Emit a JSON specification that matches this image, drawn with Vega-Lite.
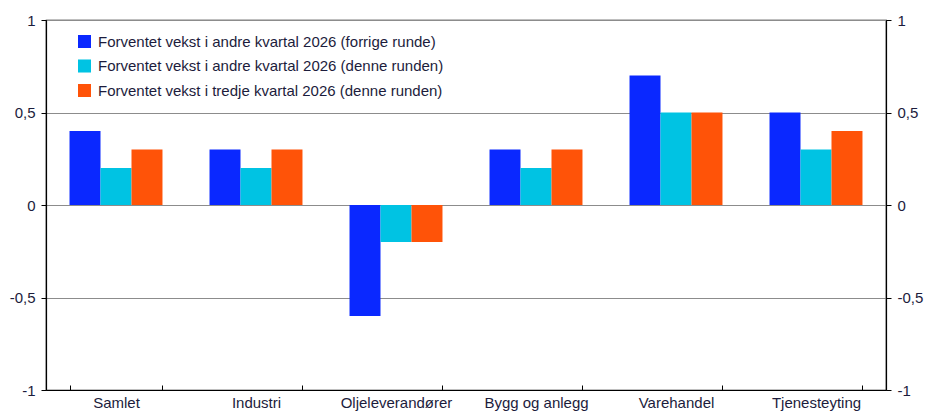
{
  "$schema": "https://vega.github.io/schema/vega-lite/v6.json",
  "width": 840,
  "height": 370,
  "autosize": {"type": "none"},
  "padding": {"left": 46, "top": 20, "right": 39, "bottom": 25},
  "background": "white",
  "config": {
    "view": {"stroke": "#000000", "strokeWidth": 1.2},
    "font": "Liberation Sans",
    "axis": {"labelFont": "Liberation Sans", "labelColor": "#1c1c3c", "labelFontSize": 15, "domainColor": "#000000", "tickColor": "#000000", "title": null}
  },
  "data": {
    "values": [
      {"kategori": "Samlet", "serie": "Forventet vekst i andre kvartal 2026 (forrige runde)", "verdi": 0.4},
      {"kategori": "Samlet", "serie": "Forventet vekst i andre kvartal 2026 (denne runden)", "verdi": 0.2},
      {"kategori": "Samlet", "serie": "Forventet vekst i tredje kvartal 2026 (denne runden)", "verdi": 0.3},
      {"kategori": "Industri", "serie": "Forventet vekst i andre kvartal 2026 (forrige runde)", "verdi": 0.3},
      {"kategori": "Industri", "serie": "Forventet vekst i andre kvartal 2026 (denne runden)", "verdi": 0.2},
      {"kategori": "Industri", "serie": "Forventet vekst i tredje kvartal 2026 (denne runden)", "verdi": 0.3},
      {"kategori": "Oljeleverandører", "serie": "Forventet vekst i andre kvartal 2026 (forrige runde)", "verdi": -0.6},
      {"kategori": "Oljeleverandører", "serie": "Forventet vekst i andre kvartal 2026 (denne runden)", "verdi": -0.2},
      {"kategori": "Oljeleverandører", "serie": "Forventet vekst i tredje kvartal 2026 (denne runden)", "verdi": -0.2},
      {"kategori": "Bygg og anlegg", "serie": "Forventet vekst i andre kvartal 2026 (forrige runde)", "verdi": 0.3},
      {"kategori": "Bygg og anlegg", "serie": "Forventet vekst i andre kvartal 2026 (denne runden)", "verdi": 0.2},
      {"kategori": "Bygg og anlegg", "serie": "Forventet vekst i tredje kvartal 2026 (denne runden)", "verdi": 0.3},
      {"kategori": "Varehandel", "serie": "Forventet vekst i andre kvartal 2026 (forrige runde)", "verdi": 0.7},
      {"kategori": "Varehandel", "serie": "Forventet vekst i andre kvartal 2026 (denne runden)", "verdi": 0.5},
      {"kategori": "Varehandel", "serie": "Forventet vekst i tredje kvartal 2026 (denne runden)", "verdi": 0.5},
      {"kategori": "Tjenesteyting", "serie": "Forventet vekst i andre kvartal 2026 (forrige runde)", "verdi": 0.5},
      {"kategori": "Tjenesteyting", "serie": "Forventet vekst i andre kvartal 2026 (denne runden)", "verdi": 0.3},
      {"kategori": "Tjenesteyting", "serie": "Forventet vekst i tredje kvartal 2026 (denne runden)", "verdi": 0.4}
    ]
  },
  "encoding": {
    "x": {
      "field": "kategori",
      "type": "nominal",
      "sort": null,
      "scale": {"paddingInner": 0.336, "paddingOuter": 0.168},
      "axis": {"labelAngle": 0, "tickBand": "extent", "tickSize": -5, "labelPadding": 10, "domainWidth": 1.2}
    }
  },
  "layer": [
    {
      "mark": {"type": "bar"},
      "encoding": {
        "xOffset": {"field": "serie", "type": "nominal", "sort": null, "scale": {"paddingInner": 0, "paddingOuter": 0}},
        "y": {
          "field": "verdi",
          "type": "quantitative",
          "scale": {"domain": [-1, 1], "nice": false},
          "axis": {
            "orient": "left",
            "values": [-1, -0.5, 0, 0.5, 1],
            "labelExpr": "replace(toString(datum.value), '.', ',')",
            "grid": true,
            "gridColor": "#8c8c8c",
            "gridWidth": 1,
            "tickSize": 5,
            "labelPadding": 6,
            "domainWidth": 1.2
          }
        },
        "color": {
          "field": "serie",
          "type": "nominal",
          "sort": null,
          "scale": {
            "domain": ["Forventet vekst i andre kvartal 2026 (forrige runde)", "Forventet vekst i andre kvartal 2026 (denne runden)", "Forventet vekst i tredje kvartal 2026 (denne runden)"],
            "range": ["#0a28ff", "#00c3e3", "#ff5308"]
          },
          "legend": {
            "title": null,
            "orient": "none",
            "legendX": 31,
            "legendY": 14,
            "symbolType": "square",
            "symbolSize": 170,
            "symbolStrokeWidth": 0,
            "labelFont": "Liberation Sans",
            "labelFontSize": 15,
            "labelColor": "#1c1c3c",
            "labelOffset": 6,
            "rowPadding": 8.5,
            "labelLimit": 600
          }
        }
      }
    },
    {
      "mark": {"type": "rule", "opacity": 0},
      "encoding": {
        "y": {
          "datum": 0,
          "type": "quantitative",
          "scale": {"domain": [-1, 1], "nice": false},
          "axis": {
            "orient": "right",
            "values": [-1, -0.5, 0, 0.5, 1],
            "labelExpr": "replace(toString(datum.value), '.', ',')",
            "grid": false,
            "tickSize": 5,
            "labelPadding": 6,
            "domainWidth": 1.2
          }
        }
      }
    }
  ],
  "resolve": {"axis": {"y": "independent"}}
}
